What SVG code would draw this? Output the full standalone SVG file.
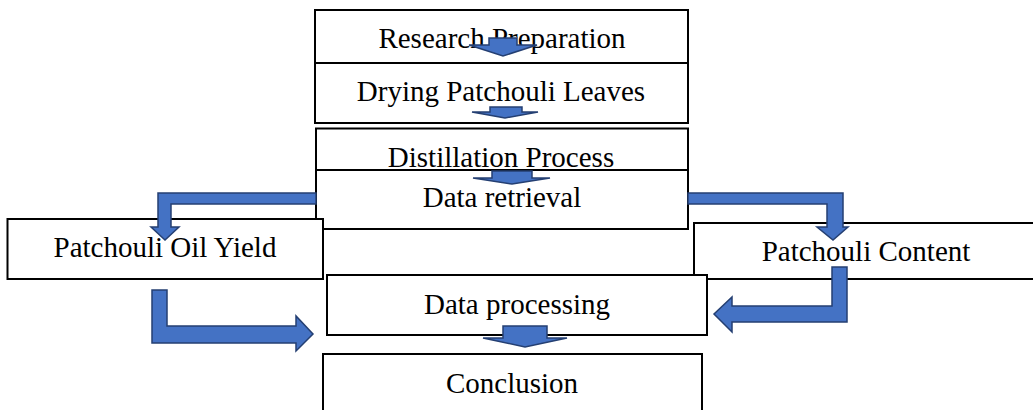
<svg xmlns="http://www.w3.org/2000/svg" width="1033" height="410" viewBox="0 0 1033 410">
  <style>
    .box { fill: #ffffff; stroke: #000000; stroke-width: 2; }
    .lbl { font-family: "Liberation Serif", "Times New Roman", serif; font-size: 29px; fill: #000000; text-anchor: middle; }
    .arrow { fill: #4472C4; stroke: #243F72; stroke-width: 1.5; stroke-linejoin: miter; }
  </style>
  <rect width="1033" height="410" fill="#ffffff"/>

  <g id="research-preparation">
    <rect class="box" x="315" y="10" width="373" height="53"/>
    <text class="lbl" x="502" y="48">Research Preparation</text>
  </g>
  <g id="drying-leaves">
    <rect class="box" x="315" y="63" width="373" height="60"/>
    <text class="lbl" x="501" y="101">Drying Patchouli Leaves</text>
  </g>
  <g id="distillation">
    <rect class="box" x="316" y="128.5" width="372" height="60"/>
    <text class="lbl" x="501" y="167">Distillation Process</text>
  </g>
  <g id="data-retrieval">
    <rect class="box" x="316" y="170" width="372" height="59"/>
    <text class="lbl" x="502" y="207">Data retrieval</text>
  </g>
  <g id="oil-yield">
    <rect class="box" x="7.5" y="219" width="315.5" height="60"/>
    <text class="lbl" x="165" y="257">Patchouli Oil Yield</text>
  </g>
  <g id="patchouli-content">
    <rect class="box" x="694" y="223" width="360" height="56"/>
    <text class="lbl" x="866" y="261">Patchouli Content</text>
  </g>
  <g id="data-processing">
    <rect class="box" x="327" y="275" width="380" height="60"/>
    <text class="lbl" x="517" y="314">Data processing</text>
  </g>
  <g id="conclusion">
    <rect class="box" x="323" y="354" width="379" height="70"/>
    <text class="lbl" x="512" y="393">Conclusion</text>
  </g>

  <g id="connectors">
    <path class="arrow" d="M489,38 H517 V45 H537 L503,56 L469,45 H489 Z"/>
    <path class="arrow" d="M490,107 H522 V112 H538 L505,118 L472,112 H490 Z"/>
    <path class="arrow" d="M492,171 H532 V178 H550 L512,184 L473,178 H492 Z"/>
    <path class="arrow" d="M503,326 H547 V338 H567 L525,347 L483,338 H503 Z"/>
    <path class="arrow" d="M316,193 H158 V227 H151 L165,240 L179,227 H171 V204 H316 Z"/>
    <path class="arrow" d="M688,193 H843 V227 H848 L833,240 L817,227 H827 V204 H688 Z"/>
    <path class="arrow" d="M832,267 H847 V322 H732 V332 L714,314 L732,297 V306 H832 Z"/>
    <path class="arrow" d="M152,290 H167 V326 H296 V316 L313,334 L296,351 V343 H152 Z"/>
  </g>
</svg>
